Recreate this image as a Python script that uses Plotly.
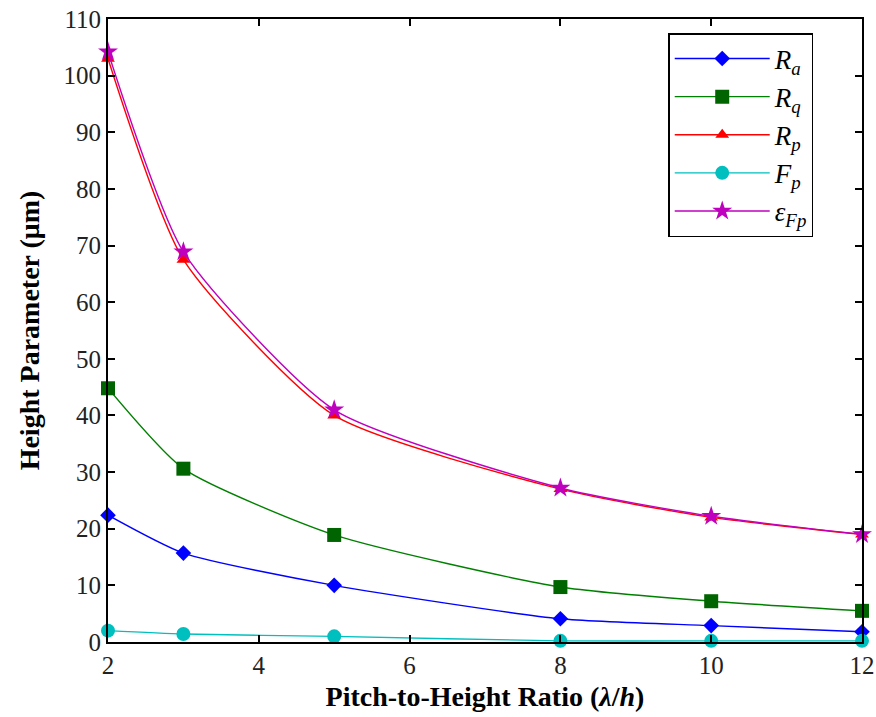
import plotly.graph_objects as go

ratio = [2, 3, 5, 8, 10, 12]
Ra = [22.4, 15.7, 10.0, 4.1, 2.9, 1.8]
Rq = [44.8, 30.6, 18.9, 9.7, 7.2, 5.5]
Rp = [103.0, 67.5, 40.0, 27.0, 22.0, 19.0]
Fp = [2.0, 1.4, 1.0, 0.2, 0.2, 0.2]
eFp = [104.2, 68.9, 41.0, 27.2, 22.2, 19.0]

names = ["<i>R<sub>a</sub></i>", "<i>R<sub>q</sub></i>", "<i>R<sub>p</sub></i>",
         "<i>F<sub>p</sub></i>", "<i>ε<sub>Fp</sub></i>"]
series = [Ra, Rq, Rp, Fp, eFp]
colors = ["#0000FF", "#008000", "#FF0000", "#00BFBF", "#BF00BF"]
mcolors = ["#0000FF", "#006400", "#FF0000", "#00BFBF", "#BF00BF"]
symbols = ["diamond", "square", "triangle-up", "circle", "star"]
sizes = [12, 14, 12, 14, 15]

fig = go.Figure()
for nm, ys, c, mc, s, sz in zip(names, series, colors, mcolors, symbols, sizes):
    fig.add_trace(go.Scatter(
        x=ratio, y=ys, name=nm, mode="lines+markers",
        line=dict(color=c, width=1.4, shape="spline", smoothing=0.6),
        marker=dict(symbol=s, size=sz, color=mc, line=dict(width=0)),
        cliponaxis=False,
    ))

axis_common = dict(
    showline=True, linecolor="black", linewidth=2, mirror="ticks",
    ticks="inside", ticklen=7, tickcolor="black", tickwidth=1.5,
    showgrid=False, zeroline=False, automargin=False,
    tickfont=dict(family="Liberation Serif", size=25, color="#222222"),
)

fig.update_layout(
    width=876, height=717,
    paper_bgcolor="white", plot_bgcolor="white",
    margin=dict(l=108, r=14, t=19, b=75, autoexpand=False),
    xaxis=dict(range=[2, 12], tickvals=[2, 4, 6, 8, 10, 12],
               title=dict(text="<b>Pitch-to-Height Ratio (<i>λ</i>/<i>h</i>)</b>",
                          font=dict(family="Liberation Serif", size=28, color="black"),
                          standoff=8),
               **axis_common),
    yaxis=dict(range=[0, 110], tickvals=list(range(0, 111, 10)),
               title=dict(text="<b>Height Parameter (μm)</b>",
                          font=dict(family="Liberation Serif", size=28, color="black"),
                          standoff=16),
               **axis_common),
    legend=dict(x=0.743, y=0.9775, xanchor="left", yanchor="top",
                bordercolor="black", borderwidth=1.5, bgcolor="white",
                font=dict(family="Liberation Serif", size=27, color="black"),
                itemwidth=95, tracegroupgap=0, itemsizing="trace"),
    showlegend=True,
)

fig.write_html("out.html", config={"displayModeBar": False},
               post_script="document.body.style.margin='0';document.body.style.overflow='hidden';")
